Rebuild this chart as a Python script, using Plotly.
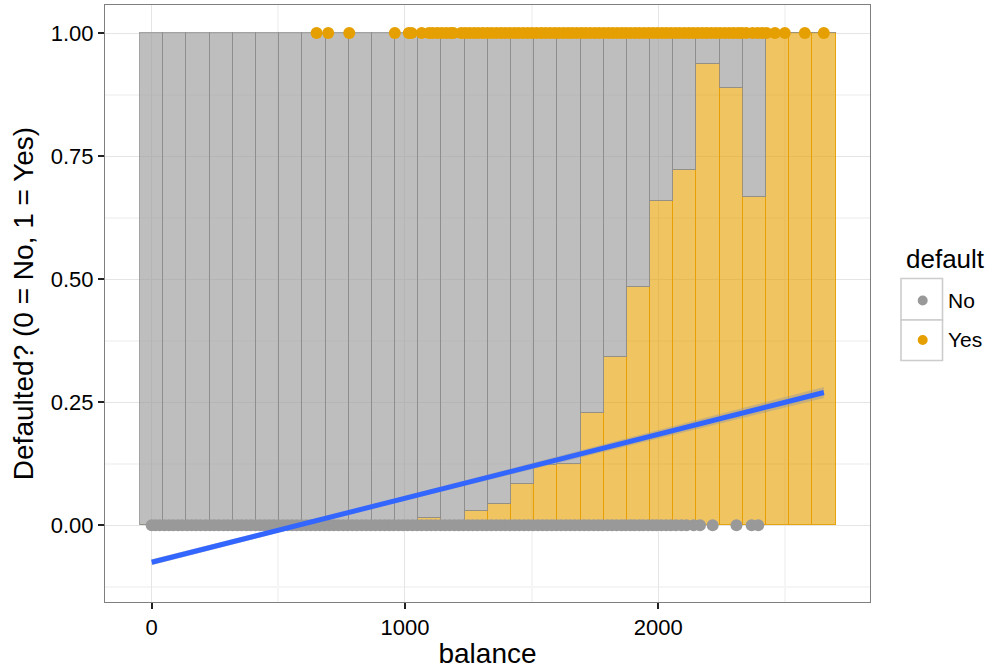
import plotly.graph_objects as go

# ---------------- data ----------------
bin_centers = [0, 91.5, 183.1, 274.6, 366.1, 457.6, 549.2, 640.7, 732.2, 823.8,
               915.3, 1006.8, 1098.3, 1189.9, 1281.4, 1372.9, 1464.5, 1556.0, 1647.5, 1739.0,
               1830.6, 1922.1, 2013.6, 2105.2, 2196.7, 2288.2, 2379.7, 2471.3, 2562.8, 2654.3]
bin_width = 91.53
yes_prop = [0, 0, 0, 0, 0, 0, 0, 0.002, 0.002, 0.002,
            0.003, 0.005, 0.014, 0.008, 0.028, 0.044, 0.083, 0.122, 0.125, 0.228,
            0.341, 0.484, 0.658, 0.722, 0.938, 0.889, 0.667, 1.0, 1.0, 1.0]
no_prop = [round(1 - v, 4) for v in yes_prop]

no_balance = [0, 15, 32, 50, 68, 85, 104, 121, 140, 158, 175, 193, 212, 230, 247, 265, 284, 301,
              320, 338, 355, 374, 392, 410, 428, 446, 464, 482, 500, 519, 537, 555, 573, 591,
              610, 628, 646, 664, 683, 701, 719, 737, 756, 774, 792, 810, 829, 847, 865, 883,
              902, 920, 938, 956, 975, 993, 1011, 1030, 1048, 1066, 1085, 1103, 1121, 1140,
              1158, 1176, 1195, 1213, 1231, 1250, 1268, 1286, 1305, 1323, 1341, 1360, 1378,
              1396, 1415, 1433, 1451, 1470, 1488, 1506, 1525, 1543, 1561, 1580, 1598, 1616,
              1635, 1653, 1671, 1690, 1708, 1726, 1745, 1763, 1781, 1800, 1818, 1836, 1855,
              1872, 1890, 1906, 1925, 1941, 1960, 1978, 1994, 2012, 2031, 2050, 2070, 2092,
              2112, 2140, 2165, 2215, 2309, 2369, 2395]
yes_balance = [651, 697, 780, 960, 1015, 1026, 1066, 1095, 1110, 1128, 1145, 1163, 1180, 1191,
               1222, 1238, 1255, 1273, 1290, 1308, 1326, 1343, 1361, 1379, 1396, 1414, 1432,
               1449, 1467, 1485, 1502, 1520, 1538, 1555, 1573, 1591, 1608, 1626, 1644, 1661,
               1679, 1697, 1714, 1732, 1750, 1767, 1785, 1803, 1820, 1838, 1856, 1873, 1891,
               1909, 1926, 1944, 1962, 1979, 1997, 2015, 2032, 2050, 2068, 2085, 2103, 2121,
               2138, 2156, 2174, 2191, 2209, 2227, 2244, 2262, 2280, 2297, 2315, 2330, 2348,
               2372, 2392, 2410, 2428, 2461, 2500, 2579, 2654]
no_value = [0] * len(no_balance)
yes_value = [1] * len(yes_balance)

fit_x = [0, 2654.3]
fit_y = [-0.0752, 0.2697]
band_x = [0, 835, 2654.3]
band_lo = [-0.0815, 0.0293, 0.2585]
band_hi = [-0.0689, 0.0373, 0.2809]

x_ticks = [0, 1000, 2000]
y_ticks = [0, 0.25, 0.5, 0.75, 1.0]
y_ticktext = ["0.00", "0.25", "0.50", "0.75", "1.00"]

# ---------------- figure ----------------
FONT = "Liberation Sans, Arial, Helvetica, sans-serif"
GREY = "#999999"
ORANGE = "#E69F00"

fig = go.Figure()
fig.add_trace(go.Bar(x=bin_centers, y=yes_prop, width=bin_width, name="Yes",
                     marker=dict(color="rgba(230,159,0,0.62)",
                                 line=dict(color="rgba(230,159,0,0.85)", width=1)),
                     showlegend=False, hoverinfo="skip"))
fig.add_trace(go.Bar(x=bin_centers, y=no_prop, width=bin_width, name="No",
                     marker=dict(color="rgba(153,153,153,0.64)",
                                 line=dict(color="rgba(140,140,140,0.8)", width=1)),
                     showlegend=False, hoverinfo="skip"))
fig.add_trace(go.Scatter(x=no_balance, y=no_value, mode="markers", name="No",
                         marker=dict(color=GREY, size=12, line=dict(width=0)),
                         showlegend=False))
fig.add_trace(go.Scatter(x=yes_balance, y=yes_value, mode="markers", name="Yes",
                         marker=dict(color=ORANGE, size=12, line=dict(width=0)),
                         showlegend=False))
fig.add_trace(go.Scatter(x=band_x, y=band_lo, mode="lines", line=dict(width=0),
                         showlegend=False, hoverinfo="skip"))
fig.add_trace(go.Scatter(x=band_x, y=band_hi, mode="lines", line=dict(width=0),
                         fill="tonexty", fillcolor="rgba(153,153,153,0.45)",
                         showlegend=False, hoverinfo="skip"))
fig.add_trace(go.Scatter(x=fit_x, y=fit_y, mode="lines",
                         line=dict(color="#3366FF", width=5),
                         showlegend=False, hoverinfo="skip"))

# panel geometry (pixels)
L, R, T, B = 105, 870, 5, 602
W, H = 993, 669

def px(xp):
    return (xp - L) / (R - L)

def py(yp):
    return (B - yp) / (B - T)

shapes = []
annotations = []
# legend boxes
for (y0, y1) in [(278.5, 320), (320, 360.5)]:
    shapes.append(dict(type="rect", xref="paper", yref="paper",
                       x0=px(901), x1=px(942.5), y0=py(y1), y1=py(y0),
                       line=dict(color="#CCCCCC", width=1.6), fillcolor="white"))
for (cy, col) in [(300.5, GREY), (340, ORANGE)]:
    shapes.append(dict(type="circle", xref="paper", yref="paper",
                       x0=px(922.7 - 5), x1=px(922.7 + 5), y0=py(cy + 5), y1=py(cy - 5),
                       line=dict(width=0), fillcolor=col))
annotations.append(dict(text="default", xref="paper", yref="paper", x=px(904), y=py(259),
                        xanchor="left", yanchor="middle", showarrow=False,
                        font=dict(family=FONT, size=26, color="black")))
for (cy, label) in [(300.5, "No"), (340, "Yes")]:
    annotations.append(dict(text=label, xref="paper", yref="paper", x=px(946), y=py(cy),
                            xanchor="left", yanchor="middle", showarrow=False,
                            font=dict(family=FONT, size=21, color="black")))

fig.update_layout(
    width=W, height=H,
    margin=dict(l=L, r=W - R, t=T, b=H - B, autoexpand=False),
    barmode="stack", bargap=0,
    paper_bgcolor="white", plot_bgcolor="white",
    font=dict(family=FONT, color="black"),
    showlegend=False,
    shapes=shapes, annotations=annotations,
    xaxis=dict(range=[-184.4, 2836.3], tickvals=x_ticks,
               ticks="outside", ticklen=6, tickwidth=2, tickcolor="#222222",
               tickfont=dict(size=22, color="black", family=FONT),
               showgrid=True, gridcolor="#E5E5E5", gridwidth=1,
               minor=dict(tickvals=[500, 1500, 2500], showgrid=True,
                          gridcolor="#F5F5F5", gridwidth=1.5, ticks=""),
               zeroline=False, showline=True, mirror=True,
               linecolor="#7F7F7F", linewidth=1,
               title=dict(text="balance", font=dict(size=28, family=FONT, color="black"),
                          standoff=3)),
    yaxis=dict(range=[-0.156, 1.057], tickvals=y_ticks, ticktext=y_ticktext,
               ticks="outside", ticklen=6, tickwidth=2, tickcolor="#222222",
               tickfont=dict(size=22, color="black", family=FONT),
               showgrid=True, gridcolor="#E5E5E5", gridwidth=1,
               minor=dict(tickvals=[-0.125, 0.125, 0.375, 0.625, 0.875], showgrid=True,
                          gridcolor="#F5F5F5", gridwidth=1.5, ticks=""),
               zeroline=False, showline=True, mirror=True,
               linecolor="#7F7F7F", linewidth=1,
               title=dict(text="Defaulted? (0 = No, 1 = Yes)",
                          font=dict(size=28, family=FONT, color="black"),
                          standoff=8)),
)

fig.write_html("out.html", config={"displayModeBar": False},
               post_script="document.body.style.margin='0';document.body.style.padding='0';")
